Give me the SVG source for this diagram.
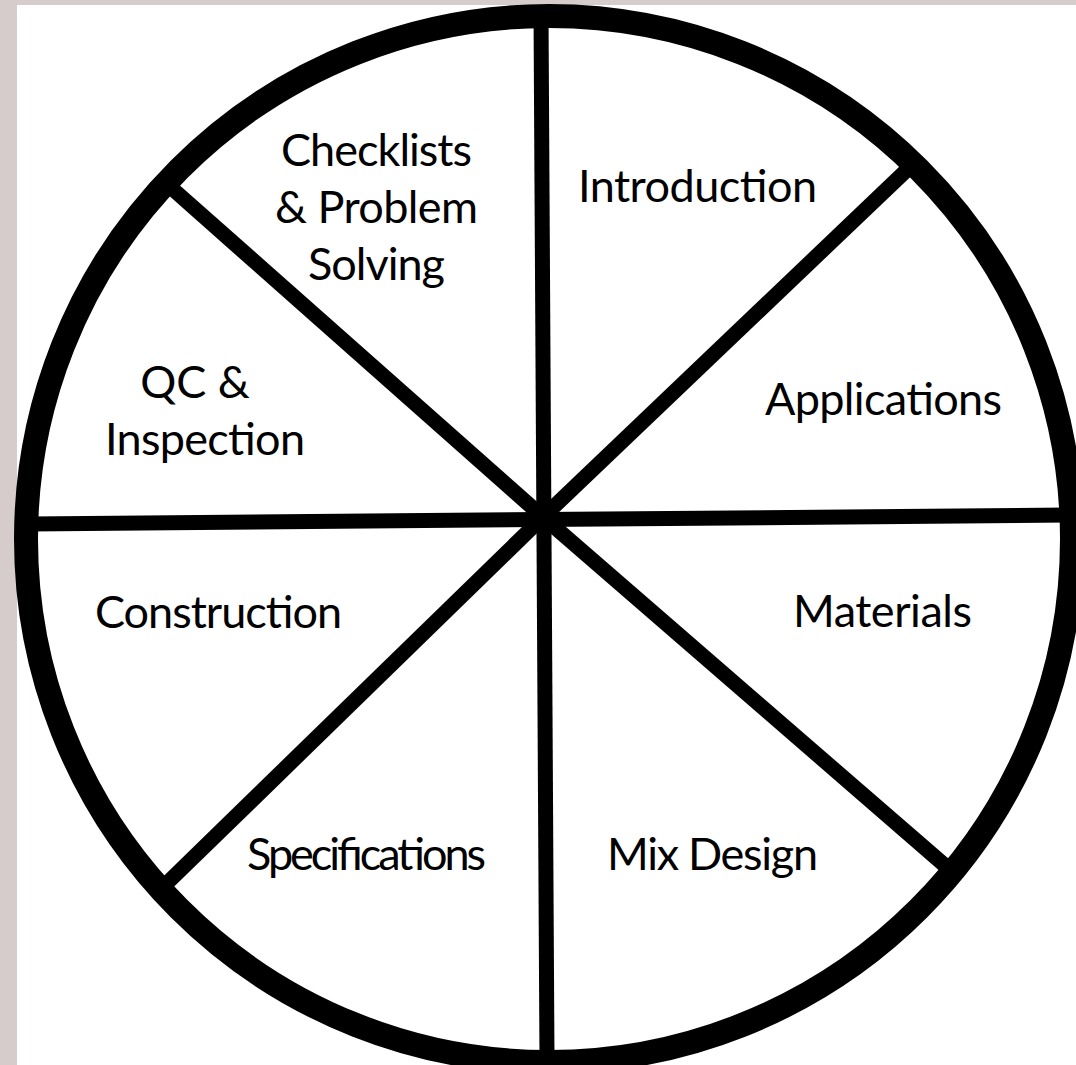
<svg xmlns="http://www.w3.org/2000/svg" width="1076" height="1065" viewBox="0 0 1076 1065">
<style>
.spoke{stroke:#000;stroke-width:15;stroke-linecap:butt;fill:none}
.lbl{font-family:Lato,"Open Sans","Liberation Sans",sans-serif;font-size:45px;fill:#000}
</style>
<rect x="0" y="0" width="1076" height="1065" fill="#d5cccb"/>
<rect x="17" y="5" width="1059" height="1060" fill="#ffffff"/>
<g id="connectors">
<line class="spoke" x1="541" y1="12" x2="547" y2="1060"/>
<line class="spoke" x1="30" y1="524" x2="1068" y2="515"/>
<line class="spoke" x1="543" y1="517" x2="912" y2="165"/>
<line class="spoke" x1="543" y1="517" x2="167" y2="184"/>
<line class="spoke" x1="543" y1="517" x2="162" y2="888"/>
<line class="spoke" x1="543" y1="517" x2="949" y2="869"/>
</g>
<g id="ring">
<circle cx="549" cy="539" r="523" fill="none" stroke="#000" stroke-width="24"/>
</g>
<g id="checklists"><text class="lbl" x="281" y="166" textLength="191">Checklists</text><text class="lbl" x="275" y="223" textLength="203">&amp; Problem</text><text class="lbl" x="308" y="280" textLength="137">Solving</text></g>
<g id="introduction"><text class="lbl" x="578" y="202" textLength="239">Introduction</text></g>
<g id="applications"><text class="lbl" x="765" y="415" textLength="237">Applications</text></g>
<g id="qc"><text class="lbl" x="195" y="398" text-anchor="middle">QC &amp;</text><text class="lbl" x="105" y="455" textLength="200">Inspection</text></g>
<g id="construction"><text class="lbl" x="95" y="628" textLength="247">Construction</text></g>
<g id="materials"><text class="lbl" x="793" y="627" textLength="179">Materials</text></g>
<g id="specifications"><text class="lbl" x="247" y="870" textLength="239">Specifications</text></g>
<g id="mixdesign"><text class="lbl" x="607" y="870" textLength="211">Mix Design</text></g>
</svg>
